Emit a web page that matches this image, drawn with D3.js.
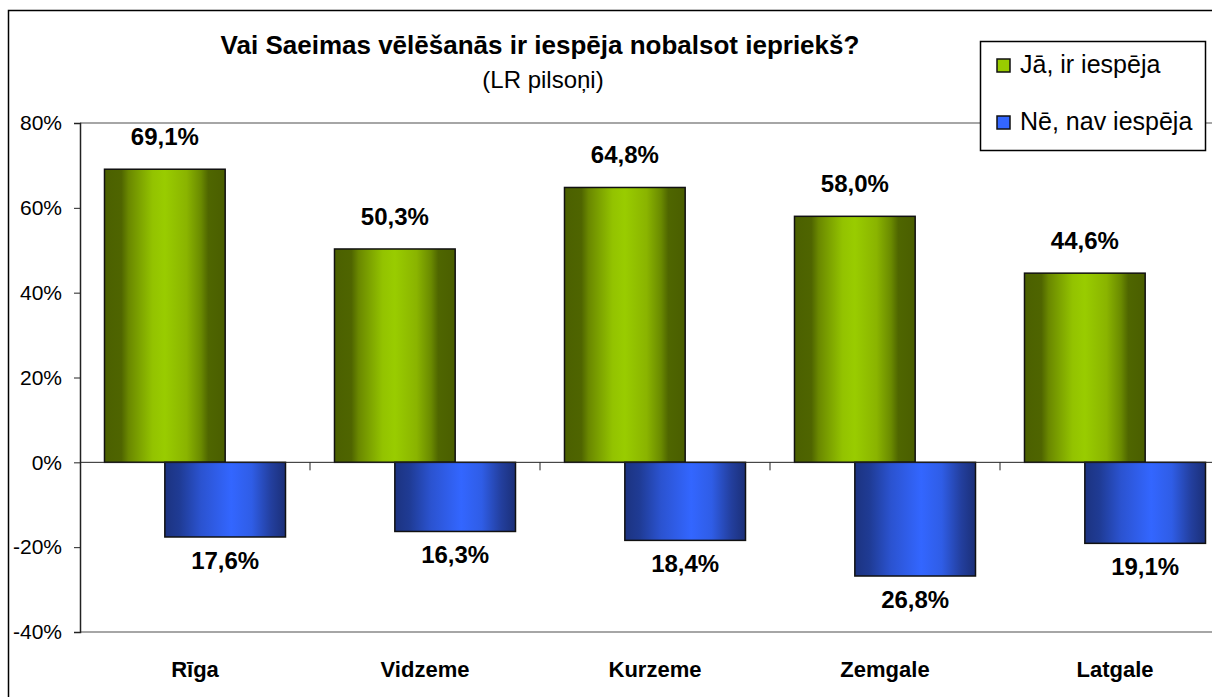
<!DOCTYPE html>
<meta charset="utf-8">
<style>
  body { margin: 0; background: #fff; }
  text { font-family: Arial, "Liberation Sans", sans-serif; }
</style>

<svg width="1212" height="697"></svg>

<script src="https://d3js.org/d3.v7.min.js"></script>
<script>

var categories = ["Rīga", "Vidzeme", "Kurzeme", "Zemgale", "Latgale"];
var seriesNames = ["Jā, ir iespēja", "Nē, nav iespēja"];
var yes = [69.1, 50.3, 64.8, 58.0, 44.6];
var no = [-17.6, -16.3, -18.4, -26.8, -19.1];
var yTicks = [-40, -20, 0, 20, 40, 60, 80];

var svg = d3.select("svg");
var width = +svg.attr("width");

var x = d3.scaleBand().domain(categories).range([80, 1230]);
var y = d3.scaleLinear().domain([-40, 80]).range([632, 123]);

var groupW = x.bandwidth() * 0.787;
var barW = groupW / 1.5;
var pad = (x.bandwidth() - groupW) / 2;

var fmt = function(v) { return d3.format(".1f")(Math.abs(v)).replace(".", ",") + "%"; };

// gradients like the excel bars
var defs = svg.append("defs");
function grad(id, stops) {
  var g = defs.append("linearGradient").attr("id", id)
    .attr("x1", "0").attr("x2", "1").attr("y1", "0").attr("y2", "0");
  stops.forEach(function(s) {
    g.append("stop").attr("offset", s[0]).attr("stop-color", s[1]);
  });
}
grad("gGreen", [[0, "#4b6000"], [0.14, "#4f6500"], [0.2, "#6a8800"], [0.4, "#93c300"], [0.5, "#99cc00"], [0.68, "#8ab400"], [0.8, "#6a8a00"], [0.86, "#4f6600"], [1, "#4a5e00"]]);
grad("gBlue", [[0, "#1c3380"], [0.12, "#1f3b94"], [0.3, "#2b53d0"], [0.55, "#3366ff"], [0.72, "#2f5de6"], [0.88, "#233f9e"], [1, "#1b2f78"]]);

// frame
svg.append("rect")
  .attr("x", 8.5).attr("y", 10.5)
  .attr("width", 1220).attr("height", 700)
  .attr("fill", "#fff").attr("stroke", "#000").attr("stroke-width", 1.5);

// top and bottom grid lines
svg.append("g").selectAll("line")
  .data([80, -40])
  .enter().append("line")
  .attr("x1", 80).attr("x2", width)
  .attr("y1", function(d) { return y(d); })
  .attr("y2", function(d) { return y(d); })
  .attr("stroke", "#a6a6a6").attr("stroke-width", 2);

// y axis
var yAxis = svg.append("g")
  .attr("transform", "translate(80,0)")
  .call(d3.axisLeft(y).tickValues(yTicks).tickSize(6).tickPadding(12)
    .tickFormat(function(d) { return d + "%"; }));
yAxis.select(".domain").attr("stroke", "#222").attr("stroke-width", 1.5);
yAxis.selectAll(".tick line").attr("stroke", "#222");
yAxis.selectAll("text").attr("font-size", 21).attr("fill", "#000")
  .attr("font-family", "Arial, 'Liberation Sans', sans-serif");

// bars
var yesBars = svg.append("g").selectAll("rect")
  .data(yes)
  .enter().append("rect")
  .attr("x", function(d, i) { return x(categories[i]) + pad; })
  .attr("y", function(d) { return y(d); })
  .attr("width", barW)
  .attr("height", function(d) { return y(0) - y(d); })
  .attr("fill", "url(#gGreen)")
  .attr("stroke", "#111").attr("stroke-width", 1.5);

var noBars = svg.append("g").selectAll("rect")
  .data(no)
  .enter().append("rect")
  .attr("x", function(d, i) { return x(categories[i]) + pad + barW / 2; })
  .attr("y", y(0))
  .attr("width", barW)
  .attr("height", function(d) { return y(d) - y(0); })
  .attr("fill", "url(#gBlue)")
  .attr("stroke", "#111").attr("stroke-width", 1.5);

// zero line with category ticks
var xAxis = svg.append("g")
  .attr("transform", "translate(0," + y(0) + ")");
xAxis.append("line")
  .attr("x1", 80).attr("x2", width)
  .attr("stroke", "#222").attr("stroke-width", 1);
xAxis.selectAll(".ctick")
  .data(categories.slice(1))
  .enter().append("line")
  .attr("class", "ctick")
  .attr("x1", function(d) { return x(d); })
  .attr("x2", function(d) { return x(d); })
  .attr("y1", 0).attr("y2", 8)
  .attr("stroke", "#222");

// value labels
svg.append("g").selectAll("text")
  .data(yes)
  .enter().append("text")
  .attr("x", function(d, i) { return x(categories[i]) + pad + barW / 2; })
  .attr("y", function(d) { return y(d) - 24; })
  .attr("text-anchor", "middle")
  .attr("font-size", 24).attr("font-weight", "bold")
  .text(fmt);

svg.append("g").selectAll("text")
  .data(no)
  .enter().append("text")
  .attr("x", function(d, i) { return x(categories[i]) + pad + barW; })
  .attr("y", function(d) { return y(d) + 32; })
  .attr("text-anchor", "middle")
  .attr("font-size", 24).attr("font-weight", "bold")
  .text(fmt);

// category labels
svg.append("g").selectAll("text")
  .data(categories)
  .enter().append("text")
  .attr("x", function(d) { return x(d) + x.bandwidth() / 2; })
  .attr("y", 677)
  .attr("text-anchor", "middle")
  .attr("font-size", 22).attr("font-weight", "bold")
  .text(function(d) { return d; });

// title
svg.append("text")
  .attr("x", 540).attr("y", 54)
  .attr("text-anchor", "middle")
  .attr("font-size", 26).attr("font-weight", "bold")
  .text("Vai Saeimas vēlēšanās ir iespēja nobalsot iepriekš?");
svg.append("text")
  .attr("x", 543).attr("y", 88)
  .attr("text-anchor", "middle")
  .attr("font-size", 24)
  .text("(LR pilsoņi)");

// legend
var legend = svg.append("g").attr("transform", "translate(980,41)");
legend.append("rect")
  .attr("x", 0.5).attr("y", 0.5).attr("width", 225).attr("height", 109)
  .attr("fill", "#fff").attr("stroke", "#000").attr("stroke-width", 1.5);
var item = legend.selectAll(".item")
  .data(seriesNames)
  .enter().append("g")
  .attr("class", "item")
  .attr("transform", function(d, i) { return "translate(17," + (18 + i * 57) + ")"; });
item.append("rect")
  .attr("width", 13).attr("height", 13)
  .attr("fill", function(d, i) { return i == 0 ? "#99cc00" : "#3366ff"; })
  .attr("stroke", "#111").attr("stroke-width", 1.5);
item.append("text")
  .attr("x", 23).attr("y", 14)
  .attr("font-size", 25)
  .text(function(d) { return d; });

</script>
